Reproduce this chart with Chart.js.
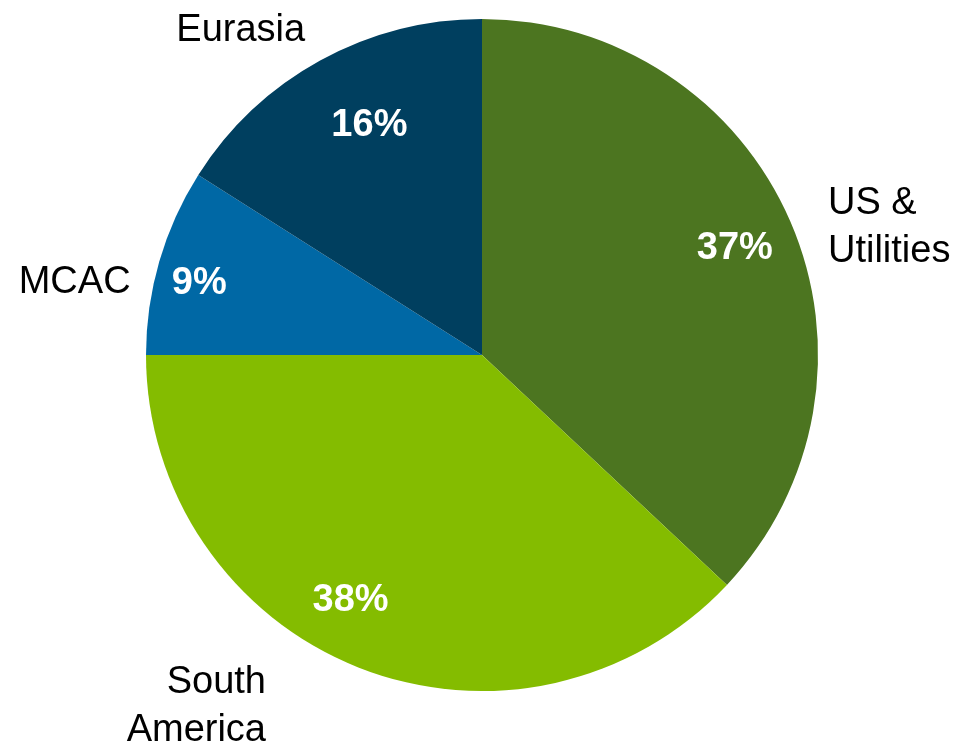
<!DOCTYPE html>
<html>
<head>
<meta charset="utf-8">
<script src="https://cdn.jsdelivr.net/npm/chart.js@4/dist/chart.umd.min.js"></script>
<style>
  html, body { margin: 0; padding: 0; background: #fff; }
  #wrap { width: 954px; height: 744px; position: relative; }
</style>
</head>
<body>
<div id="wrap"><canvas id="pie"></canvas></div>
<script>
// segments, clockwise from 12 o'clock
const regions = ['US &\nUtilities', 'South\nAmerica', 'MCAC', 'Eurasia'];
const shares = [37, 38, 9, 16];
const sliceColors = ['#4c7520', '#84bc00', '#0068a5', '#003f5f'];

const FONT = '"Liberation Sans", Arial, Helvetica, sans-serif';

// label placement: angle shift (deg) from slice middle, radius as a fraction of the pie
const valueSpots = [
  { shift: 0, r: 0.82 },
  { shift: 6.9, r: 0.82 },
  { shift: -1.5, r: 0.87 },
  { shift: 3, r: 0.77 }
];
const nameSpots = [
  { shift: 2.8, r: 1.10, align: 'left' },
  { shift: 10.2, r: 1.22, align: 'right' },
  { shift: -4, r: 1.07, align: 'right' },
  { shift: -7.6, r: 1.21, align: 'center' }
];
const textDrop = 3; // 'middle' baseline sits a bit high for caps/digits

const pieLabels = {
  id: 'pieLabels',
  afterDatasetsDraw(chart) {
    const ctx = chart.ctx;
    const arcs = chart.getDatasetMeta(0).data;
    ctx.save();
    ctx.textBaseline = 'middle';
    arcs.forEach((arc, i) => {
      const mid = (arc.startAngle + arc.endAngle) / 2;
      const R = arc.outerRadius;

      // percentage inside the slice
      const v = valueSpots[i];
      const va = mid + v.shift * Math.PI / 180;
      ctx.font = 'bold 38px ' + FONT;
      ctx.fillStyle = '#ffffff';
      ctx.textAlign = 'center';
      ctx.fillText(shares[i] + '%', arc.x + Math.cos(va) * R * v.r, arc.y + Math.sin(va) * R * v.r + textDrop);

      // region name outside
      const n = nameSpots[i];
      const na = mid + n.shift * Math.PI / 180;
      const lines = regions[i].split('\n');
      const lh = 48;
      const nx = arc.x + Math.cos(na) * R * n.r;
      const ny = arc.y + Math.sin(na) * R * n.r - (lines.length - 1) * lh / 2 + textDrop;
      ctx.font = '38px ' + FONT;
      ctx.fillStyle = '#000000';
      ctx.textAlign = n.align;
      lines.forEach((ln, k) => ctx.fillText(ln, nx, ny + k * lh));
    });
    ctx.restore();
  }
};

new Chart(document.getElementById('pie'), {
  type: 'pie',
  data: {
    labels: regions,
    datasets: [{
      data: shares,
      backgroundColor: sliceColors,
      borderWidth: 0
    }]
  },
  options: {
    responsive: true,
    maintainAspectRatio: false,
    animation: false,
    layout: { padding: { left: 146, right: 136, top: 19, bottom: 53 } },
    plugins: {
      legend: { display: false },
      tooltip: { enabled: false }
    }
  },
  plugins: [pieLabels]
});
</script>
</body>
</html>
